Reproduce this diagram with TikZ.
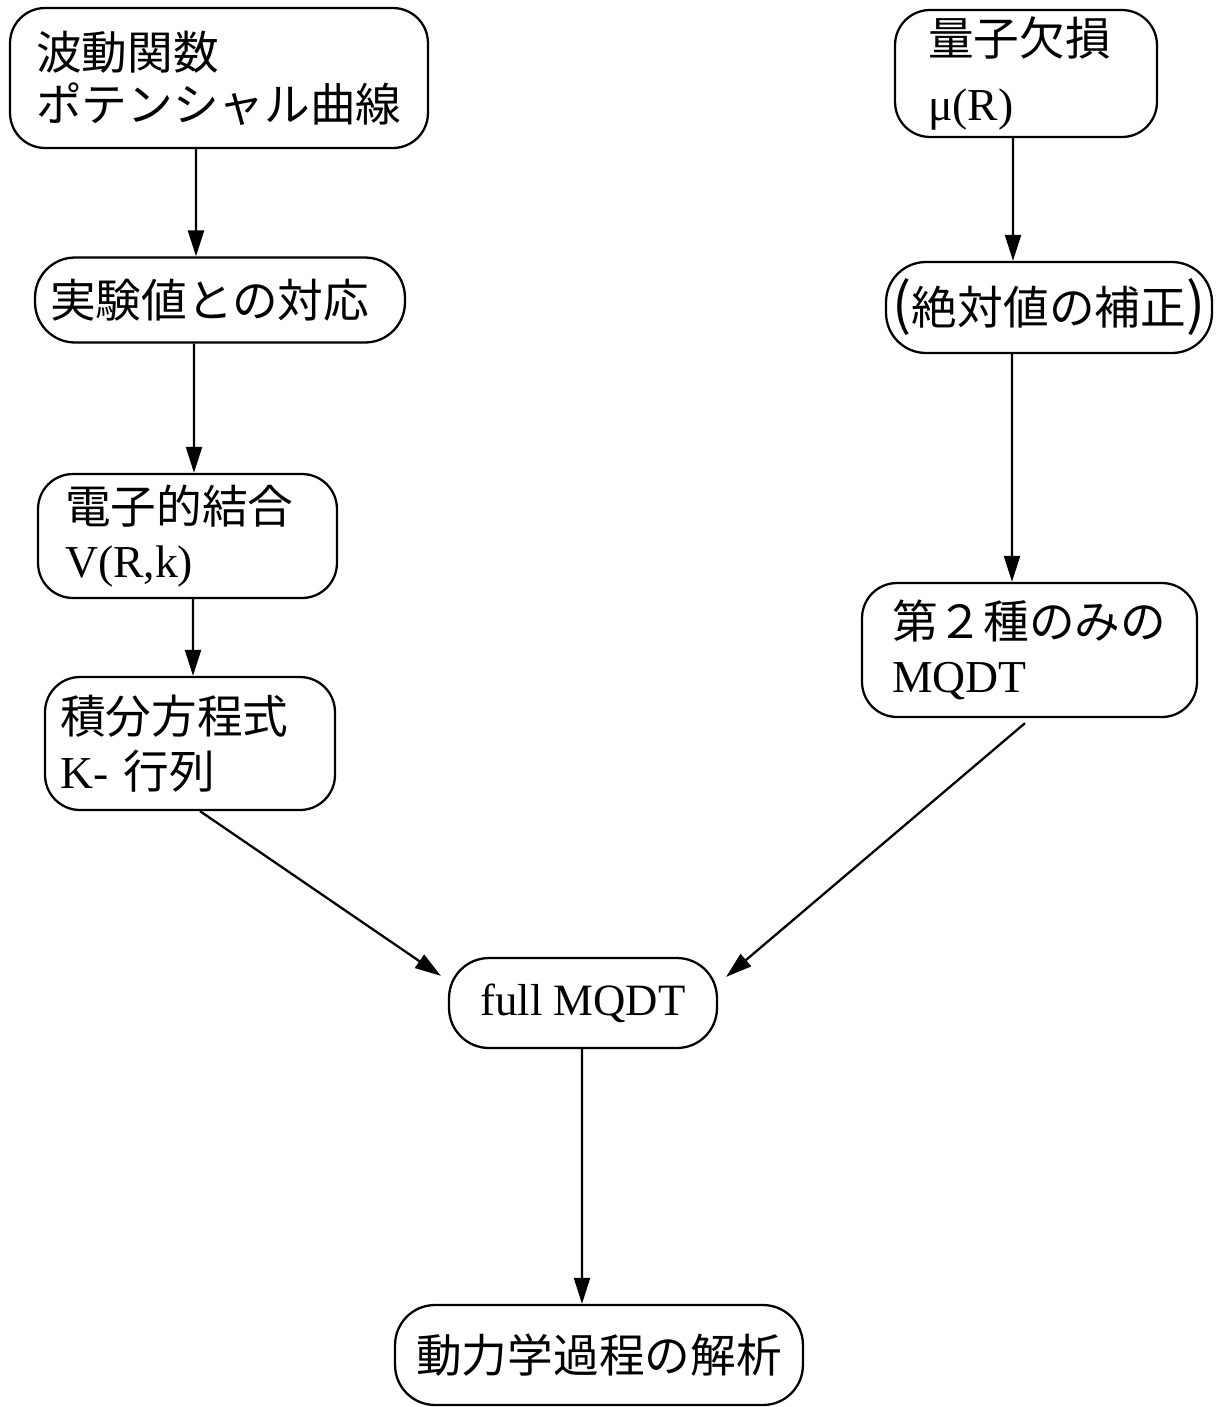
\documentclass[tikz,border=0pt]{standalone}
\usepackage{fontspec}
\setmainfont{Liberation Serif}
\newfontfamily\cjk{Noto Sans CJK JP}
\usetikzlibrary{arrows.meta}
\begin{document}
\begin{tikzpicture}[x=0.02cm,y=-0.02cm,
  box/.style={draw, line width=1.3pt, rounded corners=0.7cm, inner ysep=0pt, font=\fontsize{26}{31}\selectfont},
  lbox/.style={box, align=left},
  cbox/.style={box, align=center, inner xsep=0pt},
  arr/.style={draw, line width=1.3pt, -{Triangle[length=0.52cm,width=0.32cm]}}]
\useasboundingbox (0,0) rectangle (1215,1407);

% left column
\node[lbox, minimum width=8.36cm, minimum height=2.8cm, text width=7.32cm, inner xsep=0.52cm,
      font=\fontsize{26}{29.6}\selectfont] (n1) at (219,78)
  {{\cjk 波動関数}\\{\cjk ポテンシャル曲線}};
\node[lbox, minimum width=7.4cm, minimum height=1.7cm, text width=6.8cm, inner xsep=0.3cm,
      rounded corners=0.8cm] (n2) at (220,300)
  {{\cjk 実験値との対応}};
\node[lbox, minimum width=5.98cm, minimum height=2.48cm, text width=4.9cm, inner xsep=0.54cm] (n3) at (187.5,536)
  {{\cjk 電子的結合}\\V(R,k)};
\node[lbox, minimum width=5.8cm, minimum height=2.66cm, text width=5.2cm, inner xsep=0.3cm] (n4) at (190,743.5)
  {{\cjk 積分方程式}\\K- {\cjk 行列}};

% right column
\node[lbox, minimum width=5.24cm, minimum height=2.54cm, text width=3.92cm, inner xsep=0.66cm] (n5) at (1026,73.5)
  {{\cjk 量子欠損}\\\kern0.2cm μ(R)};
\node[cbox, minimum width=6.52cm, minimum height=1.82cm, rounded corners=0.8cm] (n6) at (1049,307.5)
  {{\cjk{\fontsize{32}{31}\selectfont(}絶対値の補正{\fontsize{32}{31}\selectfont)}}};
\node[lbox, minimum width=6.7cm, minimum height=2.68cm, text width=5.5cm, inner xsep=0.6cm] (n7) at (1029.5,650)
  {{\cjk 第２種のみの}\\MQDT};

% bottom
\node[cbox, minimum width=5.36cm, minimum height=1.8cm, rounded corners=0.8cm,
      font=\fontsize{25.5}{30}\selectfont] (n8) at (583,1003) {full MQDT};
\node[cbox, minimum width=8.16cm, minimum height=2cm, rounded corners=0.8cm] (n9) at (599,1355)
  {{\cjk 動力学過程の解析}};

% connectors
\draw[arr] ([xshift=-0.46cm]n1.south) -- ([xshift=-0.48cm]n2.north);
\draw[arr] ([xshift=-0.52cm]n2.south) -- ([xshift=0.13cm]n3.north);
\draw[arr] ([xshift=0.11cm]n3.south) -- ([xshift=0.06cm]n4.north);
\draw[arr] ([xshift=-0.26cm]n5.south) -- ([xshift=-0.72cm]n6.north);
\draw[arr] ([xshift=-0.74cm]n6.south) -- ([xshift=-0.35cm]n7.north);
\draw[arr] ([xshift=-0.02cm]n8.south) -- ([xshift=-0.34cm]n9.north);

\coordinate (l8) at ([xshift=-0.14cm,yshift=-0.38cm]n8.north west);
\coordinate (r8) at ([xshift=0.16cm,yshift=-0.4cm]n8.north east);
\draw[arr] ([xshift=0.2cm]n4.south) -- (l8);
\draw[arr] ([xshift=-0.09cm,yshift=-0.1cm]n7.south) -- (r8);
\end{tikzpicture}
\end{document}
